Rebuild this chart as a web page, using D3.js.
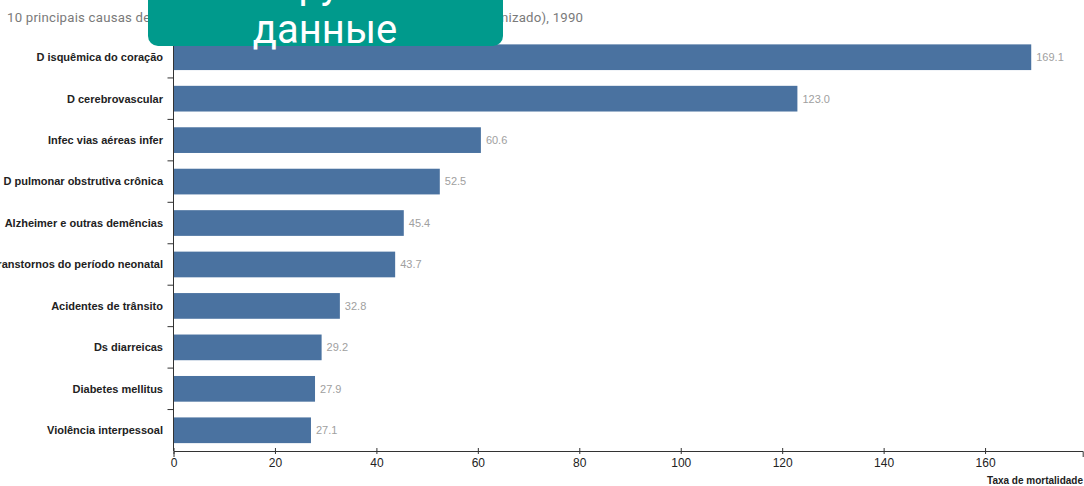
<!DOCTYPE html>
<html><head><meta charset="utf-8">
<script src="https://cdn.jsdelivr.net/npm/d3@7"></script>
<style>
body{margin:0;background:#fff;overflow:hidden;}
svg{display:block;font-family:"Liberation Sans",Arial,sans-serif;}
</style></head>
<body>
<svg id="c" width="1084" height="486"></svg>
<script>
const categories = ["D isquêmica do coração","D cerebrovascular","Infec vias aéreas infer","D pulmonar obstrutiva crônica","Alzheimer e outras demências","Transtornos do período neonatal","Acidentes de trânsito","Ds diarreicas","Diabetes mellitus","Violência interpessoal"];
const values = [169.1,123.0,60.6,52.5,45.4,43.7,32.8,29.2,27.9,27.1];
const xTicks = [0,20,40,60,80,100,120,140,160];
const title = "10 principais causas de morte, taxa de mortalidade por 100 mil habitantes (padronizado), 1990";
const xTitle = "Taxa de mortalidade";
const overlayLines = ["Выгрузить","данные"];

(function(){
const svg = d3.select("#c");
const mLeft = 173.5, mRight = 1082.7, mTop = 36.5, mBottom = 451;
const x = d3.scaleLinear().domain([0, d3.max(values)*1.06]).range([mLeft, mRight]);
const y = d3.scaleBand().domain(categories).range([mTop, mBottom]).paddingInner(0.38).paddingOuter(0.19);

svg.append("text").attr("x",7).attr("y",22).attr("fill","#7a7a7a").attr("font-size",13.2)
  .attr("textLength",576).attr("lengthAdjust","spacing")
  .attr("font-family","Roboto, 'Open Sans', sans-serif").text(title);

svg.append("g").selectAll("rect").data(values).join("rect")
  .attr("x", x(0)).attr("y",(d,i)=>y(categories[i]))
  .attr("width", d=>x(d)-x(0)).attr("height", y.bandwidth())
  .attr("fill","#4a72a0");

svg.append("g").selectAll("text").data(values).join("text")
  .attr("x", d=>x(d)+5).attr("y",(d,i)=>y(categories[i])+y.bandwidth()/2)
  .attr("dy","0.35em").attr("fill","#a0a0a0").attr("font-size",11)
  .text(d=>d.toFixed(1));

// y axis
const ya = svg.append("g");
ya.append("line").attr("x1",mLeft).attr("x2",mLeft).attr("y1",mTop).attr("y2",mBottom).attr("stroke","#333");
const step = y.step();
ya.selectAll("line.t").data(categories.slice(1)).join("line").attr("class","t")
  .attr("x1",mLeft-6).attr("x2",mLeft)
  .attr("y1",d=>y(d)-step*0.19).attr("y2",d=>y(d)-step*0.19).attr("stroke","#333");
ya.selectAll("text").data(categories).join("text")
  .attr("x",163).attr("y",d=>y(d)+y.bandwidth()/2).attr("dy","0.35em")
  .attr("text-anchor","end").attr("font-size",11).attr("font-weight","bold").attr("fill","#222")
  .text(d=>d);

// x axis
const xa = svg.append("g").attr("transform",`translate(0,${mBottom})`)
  .call(d3.axisBottom(x).tickValues(xTicks).tickSize(6).tickSizeOuter(6).tickFormat(d3.format("d")));
xa.select(".domain").attr("stroke","#333");
xa.selectAll(".tick line").attr("stroke","#333").attr("y1",-3).attr("y2",3);
xa.selectAll(".tick text").attr("font-size",12).attr("fill","#222").attr("y",7)
  .attr("font-family","'Liberation Sans Narrow','Liberation Sans',sans-serif");
svg.append("text").attr("x",1083).attr("y",484).attr("text-anchor","end")
  .attr("font-size",10).attr("font-weight","bold").attr("fill","#222").text(xTitle);

// overlay
const ov = svg.append("g");
ov.append("rect").attr("x",148).attr("y",-20).attr("width",355).attr("height",66).attr("rx",10).attr("fill","#009a8c");
ov.selectAll("text").data(overlayLines).join("text")
  .attr("x",325).attr("y",(d,i)=>-2+i*45).attr("text-anchor","middle")
  .attr("font-family","Roboto, sans-serif").attr("font-size",40).attr("fill","#fff").text(d=>d);
})();
</script>
</body></html>
